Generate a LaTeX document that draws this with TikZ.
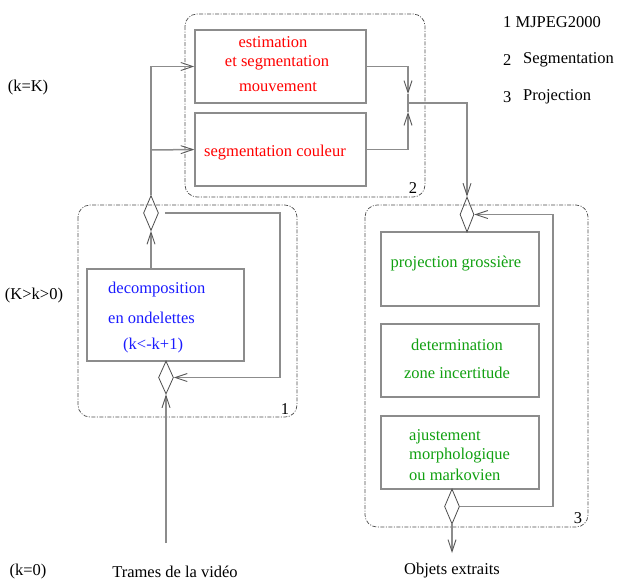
\documentclass[tikz,border=0pt]{standalone}
\usepackage{fontspec}
\setmainfont{Liberation Serif}
\usetikzlibrary{arrows.meta,shapes.geometric,calc}
\definecolor{lc}{HTML}{8C8C8C}
\definecolor{tred}{HTML}{FF0000}
\definecolor{tblue}{HTML}{1A1AFF}
\definecolor{tgreen}{HTML}{10A010}
\begin{document}
\begin{tikzpicture}[x=1pt,y=-1pt,
  font=\fontsize{16.5}{19}\selectfont,
  box/.style={draw=lc,line width=1.6pt,inner sep=0pt},
  diam/.style={diamond,draw=black!70,line width=0.8pt,inner sep=0pt,minimum width=15pt,minimum height=35pt},
  grp/.style={draw=black!70,line width=0.7pt,rounded corners=12pt,dash pattern=on 4pt off 1.5pt on 1pt off 1.5pt},
  ln/.style={draw=lc,line width=1.5pt},
  arr/.style={ln,-{Straight Barb[length=12pt,width=8pt,line width=0.9pt,color=black!65]}},
  txt/.style={inner sep=0pt}]
\useasboundingbox (0,0) rectangle (620,582);

% group frames
\draw[grp] (185,14) rectangle (425,197);
\draw[grp] (78,205) rectangle (297,417);
\draw[grp] (365,205) rectangle (588,527);
\node[txt] (g1) at (285,409) {1};
\node[txt] (g2) at (413,188) {2};
\node[txt] (g3) at (578,518) {3};

% boxes
\node[box,minimum width=171pt,minimum height=73pt] (est) at (280.5,66.5) {};
\node[box,minimum width=171pt,minimum height=73pt] (coul) at (280.5,149.5) {};
\node[box,minimum width=157pt,minimum height=92pt] (dec) at (165.5,315) {};
\node[box,minimum width=158pt,minimum height=74pt] (proj) at (460,269) {};
\node[box,minimum width=158pt,minimum height=73pt] (det) at (460,360.5) {};
\node[box,minimum width=158pt,minimum height=73pt] (aj) at (460,452.5) {};

% texts in boxes
\node[txt,text=tred] (e1) at (273,42) {estimation};
\node[txt,text=tred] (e2) at (277,63) {et segmentation};
\node[txt,text=tred] (e3) at (278,87) {mouvement};
\node[txt,text=tred] (c1) at (275,153) {segmentation couleur};
\node[txt,text=tblue,anchor=west] (d1t) at (108,290) {decomposition};
\node[txt,text=tblue,anchor=west] (d2t) at (108,318) {en ondelettes};
\node[txt,text=tblue,anchor=west] (d3t) at (123,346) {(k<-k+1)};
\node[txt,text=tgreen] (p1) at (456,264) {projection grossière};
\node[txt,text=tgreen] (t1) at (457,345) {determination};
\node[txt,text=tgreen] (t2) at (457,373) {zone incertitude};
\node[txt,text=tgreen,anchor=west] (a1) at (409,437) {ajustement};
\node[txt,text=tgreen,anchor=west] (a2) at (409,456) {morphologique};
\node[txt,text=tgreen,anchor=west] (a3) at (409,475) {ou markovien};

% diamonds
\node[diam] (dA) at (151,213) {};
\node[diam,minimum height=33pt] (dB) at (166,377.5) {};
\node[diam,minimum width=14pt] (dC) at (467,214.5) {};
\node[diam] (dD) at (452,506.5) {};

% side labels
\node[txt] (lK) at (28,88) {(k=K)};
\node[txt] (lM) at (34,296) {(K>k>0)};
\node[txt] (l0) at (28,572) {(k=0)};
\node[txt] (trames) at (175,572) {Trames de la vidéo};
\node[txt] (objets) at (452,571) {Objets extraits};

% legend
\node[txt,anchor=west] (L1) at (503,22) {1 MJPEG2000};
\node[txt,anchor=west] (L2n) at (503,60) {2};
\node[txt,anchor=west] (L2) at (523,60) {Segmentation};
\node[txt,anchor=west] (L3n) at (503,97) {3};
\node[txt,anchor=west] (L3) at (523,97) {Projection};

% coordinates
\coordinate (split) at (151,150);
\coordinate (jA) at (408,94);
\coordinate (jB) at (408,112);
\coordinate (jM) at (408,103);
\coordinate (src) at (166,543);
\coordinate (out) at (452,553);

% connectors
\draw[arr] (dA.north) |- (est.west);
\draw[arr] (split) -- (coul.west);
\draw[arr] (dec.north -| dA.south) -- (dA.south);
\draw[arr] ($(dA.east)+(6,0)$) -- (280,213) |- (dB.east);
\draw[arr] (src) -- (dB.south);
\draw[arr] (est.east) -| (jA);
\draw[arr] (coul.east) -| (jB);
\draw[ln] (jA) -- (jB);
\draw[arr] (jM) -| (dC.north);
\draw[arr] (dD.east) -| (553,214.5) -- (dC.east);
\draw[arr] (dD.south) -- (out);
\end{tikzpicture}
\end{document}
